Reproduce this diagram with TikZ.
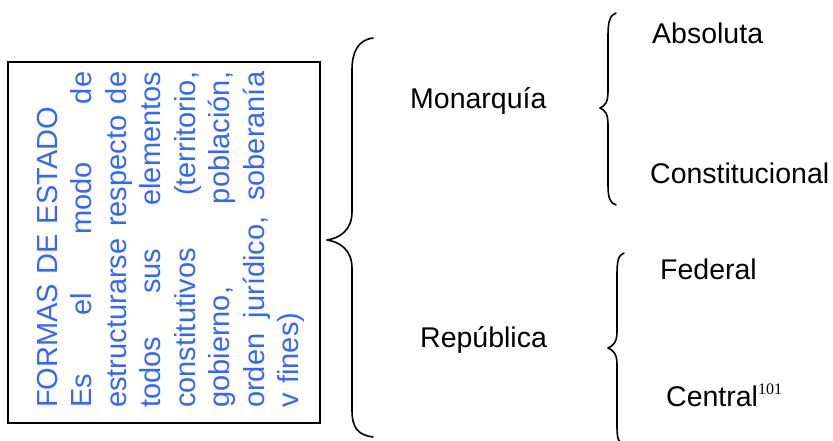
\documentclass[tikz,border=0pt]{standalone}
\usepackage{fontspec}
\setmainfont{Liberation Sans}
\newfontfamily\seriffont{Liberation Serif}
\definecolor{txtblue}{RGB}{51,102,255}
\newcommand\jline[1]{\leavevmode\hbox to 336pt{#1}}
\begin{document}
\begin{tikzpicture}[x=1pt,y=-1pt,
  lbl/.style={anchor=base west, inner sep=0pt, font=\fontsize{28.5}{34}\selectfont},
  brace/.style={line width=1.6pt, line cap=round, line join=round},
  frame/.style={draw, line width=1.8pt, anchor=north west, inner sep=0pt}
]
\useasboundingbox (0,0) rectangle (833,441);
\node[frame, minimum width=312pt, minimum height=361pt] (box) at (7,61) {};
\node[rotate=90, anchor=base west, inner sep=0pt, text width=336pt, align=left,
      text=txtblue, font=\fontsize{29}{34.5}\selectfont] (def) at (57,408)
{FORMAS DE ESTADO\\\jline{Es\hfill el\hfill modo\hfill de}\\\jline{estructurarse\hfill respecto\hfill de}\\\jline{todos\hfill sus\hfill elementos}\\\jline{constitutivos\hfill (territorio,}\\\jline{gobierno,\hfill población,}\\\jline{orden\hfill jurídico,\hfill soberanía}\\v fines)};

\node[lbl] (mon) at (410,109) {Monarquía};
\node[lbl] (rep) at (420,347) {República};
\node[lbl] (abs) at (652,44) {Absoluta};
\node[lbl] (con) at (650,183) {Constitucional};
\node[lbl] (fed) at (660,279) {Federal};
\node[lbl] (cen) at (666,406) {Central\raisebox{11.5pt}{\fontsize{16}{16}\seriffont 101}};

% big brace
\draw[brace] (373,38) .. controls (358,40) and (352,52) .. (352,70) -- (352,212)
  .. controls (352,230) and (340,238) .. (327,240)
  .. controls (340,242) and (352,250) .. (352,268) -- (352,410)
  .. controls (352,428) and (358,435) .. (373,437);
% upper right brace
\draw[brace] (616,13) .. controls (610,15) and (608,22) .. (608,35) -- (608,92)
  .. controls (608,102) and (605,106) .. (600,108)
  .. controls (605,110) and (608,114) .. (608,124) -- (608,185)
  .. controls (608,198) and (610,203) .. (616,205);
% lower right brace
\draw[brace] (624,253) .. controls (618,255) and (617,262) .. (617,275) -- (617,332)
  .. controls (617,342) and (613,346) .. (608,348)
  .. controls (613,350) and (617,354) .. (617,364) -- (617,425)
  .. controls (617,438) and (618,443) .. (624,445);
\end{tikzpicture}
\end{document}
